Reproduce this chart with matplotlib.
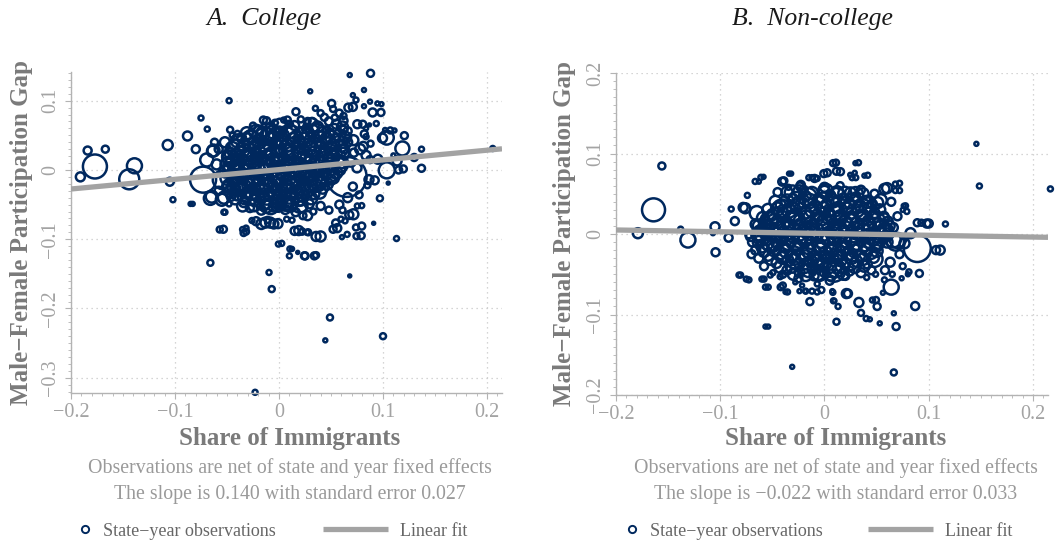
import matplotlib
matplotlib.use("Agg")
import matplotlib.pyplot as plt
import numpy as np
from matplotlib.lines import Line2D
from matplotlib.ticker import MultipleLocator

# ---------------- data: (share of immigrants, participation gap, weight) ----------------
college_core = [
    (-0.020, 0.058, 8), (-0.008, 0.061, 10), (0.004, 0.057, 7), (0.015, 0.064, 9), (0.026, 0.059, 8),
    (0.037, 0.062, 11), (0.046, 0.058, 7), (0.055, 0.066, 9), (0.062, 0.071, 8),
    (-0.036, 0.046, 9), (-0.027, 0.049, 12), (-0.017, 0.052, 10), (-0.006, 0.048, 13), (0.005, 0.051, 9),
    (0.016, 0.047, 12), (0.027, 0.052, 10), (0.038, 0.049, 11), (0.049, 0.053, 9), (0.058, 0.050, 12), (0.066, 0.056, 8),
    (-0.043, 0.037, 10), (-0.034, 0.034, 12), (-0.024, 0.039, 11), (-0.014, 0.036, 13), (-0.003, 0.040, 10),
    (0.008, 0.035, 12), (0.019, 0.041, 11), (0.030, 0.037, 13), (0.041, 0.040, 10), (0.052, 0.036, 12), (0.061, 0.042, 9),
    (-0.047, 0.024, 11), (-0.038, 0.027, 10), (-0.029, 0.022, 13), (-0.019, 0.028, 11), (-0.009, 0.023, 12),
    (0.002, 0.029, 10), (0.012, 0.024, 13), (0.023, 0.030, 11), (0.034, 0.025, 12), (0.045, 0.028, 10),
    (0.055, 0.024, 11), (0.063, 0.031, 9),
    (-0.045, 0.013, 12), (-0.036, 0.017, 10), (-0.026, 0.012, 12), (-0.016, 0.016, 11), (-0.006, 0.011, 13),
    (0.005, 0.017, 10), (0.015, 0.012, 12), (0.026, 0.018, 11), (0.037, 0.013, 12), (0.047, 0.016, 10), (0.057, 0.014, 11),
    (-0.048, 0.004, 10), (-0.039, 0.001, 12), (-0.030, 0.006, 11), (-0.020, 0.002, 13), (-0.010, 0.007, 10),
    (0.000, 0.003, 12), (0.010, 0.006, 11), (0.020, 0.001, 13), (0.031, 0.005, 10), (0.041, 0.002, 12),
    (0.051, 0.006, 11), (0.060, 0.003, 9),
    (-0.046, -0.006, 11), (-0.037, -0.009, 12), (-0.027, -0.004, 10), (-0.017, -0.008, 12), (-0.007, -0.003, 11),
    (0.004, -0.007, 13), (0.014, -0.004, 10), (0.024, -0.009, 12), (0.035, -0.005, 11), (0.045, -0.008, 10), (0.055, -0.004, 12),
    (-0.044, -0.016, 12), (-0.035, -0.013, 10), (-0.025, -0.018, 12), (-0.015, -0.014, 11), (-0.004, -0.019, 13),
    (0.007, -0.015, 10), (0.017, -0.018, 12), (0.028, -0.013, 11), (0.039, -0.017, 12), (0.050, -0.014, 10),
    (-0.042, -0.027, 10), (-0.033, -0.023, 12), (-0.023, -0.028, 11), (-0.012, -0.024, 13), (-0.002, -0.029, 10),
    (0.009, -0.025, 12), (0.020, -0.028, 11), (0.031, -0.023, 12), (0.042, -0.027, 10),
    (-0.040, -0.036, 11), (-0.030, -0.033, 10), (-0.020, -0.038, 12), (-0.010, -0.034, 11), (0.001, -0.037, 12),
    (0.012, -0.033, 10), (0.023, -0.038, 11), (0.034, -0.035, 10),
    (-0.034, -0.047, 9), (-0.024, -0.044, 11), (-0.013, -0.049, 10), (-0.003, -0.045, 12), (0.008, -0.048, 9),
    (0.019, -0.044, 11), (0.029, -0.049, 9),
    (-0.028, -0.055, 8), (-0.017, -0.058, 9), (-0.006, -0.054, 8), (0.006, -0.057, 9), (0.016, -0.061, 8),
]

college_core_2 = [
    (-0.031, 0.053, 12), (-0.022, 0.055, 14), (-0.011, 0.051, 13), (0.000, 0.054, 12), (0.010, 0.056, 14),
    (0.021, 0.053, 12), (0.032, 0.056, 13), (0.043, 0.054, 12), (0.053, 0.057, 13), (0.061, 0.062, 11),
    (-0.040, 0.042, 13), (-0.030, 0.044, 12), (-0.019, 0.041, 14), (-0.008, 0.044, 13), (0.003, 0.041, 12),
    (0.014, 0.043, 14), (0.024, 0.045, 12), (0.035, 0.042, 13), (0.046, 0.045, 12), (0.056, 0.043, 13), (0.064, 0.047, 11),
    (-0.045, 0.031, 13), (-0.035, 0.029, 14), (-0.024, 0.032, 12), (-0.013, 0.030, 13), (-0.002, 0.033, 14),
    (0.008, 0.030, 12), (0.018, 0.034, 13), (0.029, 0.031, 14), (0.040, 0.034, 12), (0.050, 0.031, 13), (0.060, 0.035, 12),
    (-0.049, 0.019, 12), (-0.040, 0.021, 13), (-0.031, 0.018, 14), (-0.021, 0.021, 12), (-0.011, 0.018, 14),
    (-0.001, 0.022, 13), (0.010, 0.019, 12), (0.020, 0.023, 14), (0.031, 0.019, 13), (0.042, 0.022, 12),
    (0.052, 0.019, 13), (0.062, 0.024, 11),
    (-0.050, 0.008, 13), (-0.041, 0.010, 12), (-0.032, 0.008, 14), (-0.023, 0.010, 13), (-0.013, 0.008, 12),
    (-0.002, 0.010, 14), (0.008, 0.008, 13), (0.019, 0.010, 12), (0.029, 0.009, 14), (0.040, 0.011, 13),
    (0.050, 0.009, 12), (0.060, 0.011, 12),
    (-0.051, -0.002, 12), (-0.042, 0.000, 14), (-0.033, -0.002, 13), (-0.024, 0.000, 12), (-0.014, -0.002, 14),
    (-0.004, 0.000, 13), (0.006, -0.001, 12), (0.016, 0.000, 14), (0.026, -0.002, 13), (0.037, 0.000, 12),
    (0.047, -0.002, 13), (0.058, 0.001, 12),
    (-0.050, -0.012, 13), (-0.040, -0.010, 12), (-0.031, -0.012, 14), (-0.021, -0.010, 13), (-0.011, -0.012, 12),
    (-0.001, -0.010, 14), (0.010, -0.012, 13), (0.020, -0.010, 12), (0.031, -0.012, 14), (0.041, -0.010, 13),
    (0.052, -0.011, 12),
    (-0.048, -0.022, 12), (-0.039, -0.020, 14), (-0.029, -0.022, 13), (-0.019, -0.020, 12), (-0.008, -0.022, 14),
    (0.002, -0.020, 13), (0.013, -0.022, 12), (0.024, -0.020, 14), (0.035, -0.022, 13), (0.046, -0.020, 12),
    (-0.046, -0.031, 13), (-0.036, -0.029, 12), (-0.026, -0.032, 14), (-0.016, -0.030, 13), (-0.005, -0.032, 12),
    (0.006, -0.030, 14), (0.017, -0.032, 13), (0.028, -0.030, 12), (0.039, -0.032, 13),
    (-0.042, -0.041, 12), (-0.033, -0.040, 13), (-0.023, -0.042, 12), (-0.012, -0.040, 14), (-0.001, -0.042, 13),
    (0.010, -0.040, 12), (0.021, -0.042, 13), (0.031, -0.041, 12),
    (-0.035, -0.052, 11), (-0.024, -0.051, 12), (-0.012, -0.053, 12), (-0.001, -0.051, 13), (0.011, -0.052, 12),
    (0.022, -0.053, 11),
]

college_core_big = [
    (-0.041, 0.031, 18), (-0.039, 0.001, 20), (-0.041, -0.024, 18), (-0.027, 0.043, 19), (-0.029, 0.016, 21),
    (-0.027, -0.011, 19), (-0.028, -0.037, 18), (-0.014, 0.049, 18), (-0.016, 0.027, 20), (-0.014, 0.004, 22),
    (-0.016, -0.021, 20), (-0.015, -0.046, 17), (-0.001, 0.046, 19), (-0.003, 0.019, 21), (-0.001, -0.007, 20),
    (-0.002, -0.034, 19), (0.012, 0.051, 18), (0.010, 0.031, 21), (0.012, 0.005, 20), (0.011, -0.019, 21),
    (0.010, -0.041, 17), (0.025, 0.048, 20), (0.023, 0.021, 19), (0.025, -0.003, 22), (0.024, -0.029, 18),
    (0.037, 0.053, 18), (0.035, 0.031, 21), (0.037, 0.007, 19), (0.036, -0.017, 20), (0.049, 0.043, 19),
    (0.047, 0.019, 20), (0.049, -0.004, 18), (0.058, 0.031, 17), (0.059, 0.009, 16), (-0.046, 0.016, 17),
    (0.001, 0.063, 15), (0.031, 0.064, 15), (-0.008, -0.053, 15), (0.020, -0.051, 15),
]

college_outer = [
    (-0.191, -0.010, 9), (-0.184, 0.028, 8), (-0.177, 0.005, 24), (-0.167, 0.030, 7), (-0.144, -0.0135, 20),
    (-0.139, 0.006, 15), (-0.107, 0.036, 10), (-0.105, -0.017, 8), (-0.102, -0.043, 5), (-0.088, 0.049, 9),
    (-0.085, -0.049, 4), (-0.075, 0.075, 5), (-0.069, 0.059, 5), (-0.080, 0.030, 8), (-0.064, 0.027, 11),
    (-0.073, -0.014, 26), (-0.066, -0.041, 13), (-0.055, -0.043, 12), (-0.053, -0.061, 5), (-0.066, -0.134, 6),
    (-0.057, -0.086, 6), (-0.048, 0.100, 5), (-0.045, 0.050, 5), (-0.040, 0.052, 6), (-0.035, -0.086, 5),
    (-0.034, -0.091, 6), (-0.026, -0.073, 5), (-0.017, -0.078, 10), (-0.005, -0.078, 9), (-0.011, -0.072, 6),
    (-0.023, -0.321, 5), (-0.0096, -0.148, 5), (-0.007, -0.172, 6), (-0.0006, -0.107, 5), (0.010, -0.124, 5),
    (0.0125, -0.114, 4), (0.018, -0.119, 3), (0.015, -0.088, 8), (0.022, -0.089, 5), (0.025, -0.124, 7),
    (0.027, -0.090, 5), (0.0356, -0.096, 9), (0.0356, -0.123, 6), (0.023, -0.066, 7), (0.0074, -0.071, 5),
    (0.030, 0.1135, 4), (0.0163, 0.084, 7), (0.0045, 0.072, 5), (-0.015, 0.072, 7),
    (0.049, -0.213, 6), (0.0445, -0.246, 4), (0.100, -0.240, 6), (0.068, -0.153, 3), (0.113, -0.099, 5),
    (0.091, -0.077, 3), (0.074, -0.083, 6), (0.0745, -0.0955, 6), (0.0605, -0.097, 4), (0.052, -0.0856, 7),
    (0.0676, -0.065, 8), (0.0753, -0.052, 5), (0.0596, -0.071, 5),
    (0.068, 0.137, 4), (0.088, 0.1395, 7), (0.0817, 0.1154, 4), (0.071, 0.108, 4), (0.074, 0.101, 5),
    (0.0875, 0.0986, 4), (0.0946, 0.096, 4), (0.0985, 0.095, 4), (0.0817, 0.092, 4), (0.0667, 0.090, 8),
    (0.0506, 0.096, 7), (0.090, 0.083, 8), (0.0753, 0.066, 8), (0.087, 0.065, 3), (0.0837, 0.060, 4),
    (0.111, 0.057, 4), (0.102, 0.0577, 4), (0.1205, 0.0495, 7), (0.1036, 0.0467, 14), (0.0995, 0.046, 9),
    (0.1186, 0.031, 14), (0.137, 0.030, 5), (0.130, 0.018, 7), (0.137, 0.0024, 7), (0.115, 0.000, 7),
    (0.1036, -0.0006, 16), (0.1135, 0.013, 9), (0.110, 0.021, 4), (0.095, 0.0155, 9), (0.0837, 0.021, 9),
    (0.078, 0.030, 10), (0.0837, 0.048, 5), (0.097, -0.041, 6), (0.105, -0.019, 3), (0.092, -0.015, 8),
    (0.085, -0.022, 6), (0.2055, 0.031, 5), (0.065, -0.010, 40),
    (-0.012, 0.071, 7), (0.008, 0.072, 7), (0.0275, 0.0707, 6), (0.0436, 0.076, 7), (0.0536, 0.0755, 6),
    (0.071, 0.091, 8), (0.0805, 0.066, 7), (0.098, 0.083, 7), (0.0935, 0.067, 5), (0.107, 0.057, 6),
    (0.0715, 0.043, 10), (0.081, 0.034, 9), (0.0875, 0.015, 7), (0.0865, -0.014, 9), (0.1195, 0.0015, 7),
    (0.0795, -0.0515, 5), (0.0795, -0.081, 7), (0.079, -0.0948, 7), (0.0655, -0.093, 5), (0.056, -0.084, 8),
    (0.0545, -0.0765, 7), (0.0715, -0.064, 10), (0.0635, -0.0735, 5), (0.040, -0.096, 10), (0.0275, -0.066, 9),
    (0.019, -0.0875, 9), (0.0225, -0.089, 6), (0.028, -0.090, 6), (0.0125, -0.0725, 5), (0.0026, -0.106, 5),
    (0.0105, -0.114, 5), (0.0245, -0.124, 7), (0.034, -0.124, 7), (-0.001, -0.0775, 9), (-0.0085, -0.076, 10),
    (-0.013, -0.076, 10), (-0.022, -0.074, 8), (-0.0317, -0.084, 5), (-0.0317, -0.089, 6), (-0.0535, -0.0856, 7),
    (-0.052, -0.061, 5), (-0.083, -0.049, 4), (-0.0647, -0.0385, 12), (-0.053, -0.040, 12), (-0.048, -0.049, 5),
    (-0.055, -0.0144, 18), (-0.0695, 0.0144, 13), (-0.063, 0.028, 12), (0.000, -0.048, 13), (0.006, -0.048, 15),
    (-0.006, 0.055, 13), (-0.012, 0.052, 20), (0.009, -0.044, 20),
    (0.066, 0.040, 9), (0.072, 0.025, 8), (0.069, 0.012, 10), (0.075, 0.003, 9), (0.071, -0.024, 8),
    (0.077, -0.036, 7), (0.066, -0.040, 9), (0.082, 0.052, 7), (0.088, 0.038, 6), (0.062, 0.058, 8),
    (0.058, -0.050, 8), (0.048, -0.058, 7), (0.040, -0.052, 8), (0.033, -0.060, 6), (0.061, -0.058, 6),
    (-0.052, 0.040, 10), (-0.058, 0.030, 8), (-0.050, 0.022, 9), (-0.060, 0.008, 10), (-0.052, -0.002, 12),
    (-0.050, -0.024, 10), (-0.058, -0.030, 8), (-0.046, -0.038, 9), (-0.062, 0.040, 7), (-0.047, 0.058, 6),
    (-0.025, 0.064, 6), (-0.004, 0.068, 6), (0.010, 0.066, 7), (0.021, 0.073, 6), (0.032, 0.070, 7),
    (0.040, 0.082, 6), (0.048, 0.070, 8), (0.058, 0.082, 7), (0.062, 0.078, 6), (0.052, 0.088, 6), (0.035, 0.089, 5),
]

noncollege_core = [
    (-0.030, 0.044, 9), (-0.018, 0.047, 10), (-0.006, 0.043, 11), (0.006, 0.048, 9), (0.018, 0.044, 10),
    (0.030, 0.046, 9), (0.040, 0.042, 8),
    (-0.042, 0.036, 10), (-0.031, 0.033, 11), (-0.020, 0.038, 10), (-0.009, 0.034, 12), (0.002, 0.037, 10),
    (0.013, 0.033, 11), (0.024, 0.038, 10), (0.035, 0.034, 11), (0.046, 0.037, 9),
    (-0.050, 0.024, 11), (-0.040, 0.027, 10), (-0.029, 0.022, 12), (-0.018, 0.026, 11), (-0.007, 0.023, 12),
    (0.004, 0.027, 10), (0.015, 0.022, 12), (0.026, 0.026, 11), (0.037, 0.023, 12), (0.048, 0.026, 10), (0.057, 0.022, 9),
    (-0.056, 0.013, 12), (-0.046, 0.016, 10), (-0.035, 0.012, 12), (-0.024, 0.017, 11), (-0.013, 0.013, 13),
    (-0.002, 0.017, 10), (0.009, 0.012, 12), (0.020, 0.016, 11), (0.031, 0.013, 12), (0.042, 0.017, 10),
    (0.052, 0.013, 11), (0.061, 0.016, 9),
    (-0.060, 0.004, 11), (-0.050, 0.007, 12), (-0.040, 0.003, 10), (-0.029, 0.006, 13), (-0.018, 0.002, 11),
    (-0.007, 0.006, 12), (0.004, 0.003, 10), (0.015, 0.007, 13), (0.026, 0.002, 11), (0.037, 0.006, 12),
    (0.048, 0.003, 10), (0.058, 0.006, 11),
    (-0.062, -0.006, 12), (-0.052, -0.003, 10), (-0.041, -0.007, 12), (-0.030, -0.004, 11), (-0.019, -0.008, 13),
    (-0.008, -0.003, 10), (0.003, -0.007, 12), (0.014, -0.004, 11), (0.025, -0.008, 12), (0.036, -0.004, 10),
    (0.047, -0.007, 11), (0.057, -0.005, 10),
    (-0.060, -0.016, 11), (-0.049, -0.013, 12), (-0.038, -0.017, 10), (-0.027, -0.014, 12), (-0.016, -0.018, 11),
    (-0.005, -0.014, 13), (0.006, -0.017, 10), (0.017, -0.013, 12), (0.028, -0.017, 11), (0.039, -0.014, 12),
    (0.050, -0.016, 10),
    (-0.054, -0.027, 10), (-0.043, -0.024, 12), (-0.032, -0.028, 11), (-0.021, -0.024, 12), (-0.010, -0.027, 10),
    (0.001, -0.023, 12), (0.012, -0.028, 11), (0.023, -0.025, 12), (0.034, -0.027, 10), (0.045, -0.024, 11),
    (-0.046, -0.036, 10), (-0.035, -0.033, 11), (-0.024, -0.037, 10), (-0.013, -0.034, 12), (-0.002, -0.037, 10),
    (0.009, -0.033, 11), (0.020, -0.036, 10), (0.031, -0.034, 11), (0.041, -0.037, 9),
    (-0.036, -0.045, 9), (-0.024, -0.047, 10), (-0.012, -0.044, 9), (0.000, -0.047, 10), (0.012, -0.044, 9),
    (0.024, -0.046, 9),
]

noncollege_core_2 = [
    (-0.036, 0.052, 11), (-0.024, 0.053, 12), (-0.012, 0.051, 12), (0.000, 0.053, 11), (0.012, 0.052, 12),
    (0.025, 0.051, 11), (0.037, 0.050, 11),
    (-0.047, 0.040, 12), (-0.036, 0.041, 13), (-0.025, 0.039, 12), (-0.014, 0.041, 14), (-0.003, 0.040, 12),
    (0.008, 0.041, 13), (0.019, 0.039, 12), (0.030, 0.041, 13), (0.041, 0.040, 12), (0.051, 0.039, 11),
    (-0.054, 0.030, 12), (-0.045, 0.031, 13), (-0.034, 0.029, 14), (-0.023, 0.031, 12), (-0.012, 0.029, 13),
    (-0.001, 0.031, 14), (0.010, 0.029, 12), (0.021, 0.031, 13), (0.032, 0.029, 12), (0.043, 0.031, 13), (0.053, 0.030, 11),
    (-0.059, 0.020, 12), (-0.051, 0.019, 13), (-0.040, 0.021, 12), (-0.029, 0.019, 14), (-0.018, 0.021, 13),
    (-0.007, 0.019, 12), (0.004, 0.021, 14), (0.015, 0.019, 13), (0.026, 0.021, 12), (0.037, 0.019, 14),
    (0.047, 0.021, 12), (0.057, 0.019, 11),
    (-0.063, 0.010, 12), (-0.055, 0.009, 13), (-0.045, 0.011, 14), (-0.034, 0.009, 12), (-0.023, 0.011, 13),
    (-0.012, 0.009, 14), (-0.001, 0.011, 12), (0.010, 0.009, 13), (0.021, 0.011, 14), (0.032, 0.009, 12),
    (0.043, 0.011, 13), (0.053, 0.009, 12), (0.062, 0.010, 11),
    (-0.064, 0.000, 13), (-0.056, 0.001, 12), (-0.046, -0.001, 14), (-0.035, 0.001, 13), (-0.024, -0.001, 12),
    (-0.013, 0.001, 14), (-0.002, -0.001, 13), (0.009, 0.001, 12), (0.020, -0.001, 14), (0.031, 0.001, 13),
    (0.042, -0.001, 12), (0.052, 0.001, 13), (0.061, 0.000, 11),
    (-0.063, -0.010, 12), (-0.055, -0.011, 13), (-0.046, -0.009, 12), (-0.035, -0.011, 14), (-0.024, -0.009, 13),
    (-0.013, -0.011, 12), (-0.002, -0.009, 14), (0.009, -0.011, 13), (0.020, -0.009, 12), (0.031, -0.011, 14),
    (0.042, -0.009, 13), (0.052, -0.011, 12), (0.060, -0.010, 11),
    (-0.058, -0.021, 12), (-0.048, -0.019, 14), (-0.037, -0.021, 13), (-0.026, -0.019, 12), (-0.015, -0.021, 14),
    (-0.004, -0.019, 13), (0.007, -0.021, 12), (0.018, -0.019, 14), (0.029, -0.021, 13), (0.040, -0.019, 12),
    (0.050, -0.021, 12),
    (-0.051, -0.031, 12), (-0.040, -0.029, 13), (-0.029, -0.031, 12), (-0.018, -0.029, 14), (-0.007, -0.031, 13),
    (0.004, -0.029, 12), (0.015, -0.031, 14), (0.026, -0.029, 13), (0.037, -0.031, 12), (0.047, -0.029, 11),
    (-0.042, -0.041, 12), (-0.031, -0.040, 13), (-0.019, -0.041, 12), (-0.007, -0.040, 13), (0.005, -0.041, 12),
    (0.017, -0.040, 13), (0.029, -0.041, 12), (0.038, -0.040, 11),
    (-0.030, -0.050, 11), (-0.018, -0.051, 12), (-0.006, -0.050, 12), (0.006, -0.051, 11), (0.018, -0.050, 11),
]

noncollege_core_big = [
    (-0.053, 0.016, 18), (-0.051, -0.011, 19), (-0.041, 0.031, 19), (-0.039, 0.004, 21), (-0.040, -0.023, 19),
    (-0.027, 0.041, 18), (-0.029, 0.017, 21), (-0.027, -0.007, 22), (-0.028, -0.031, 19), (-0.016, 0.046, 18),
    (-0.014, 0.024, 20), (-0.016, 0.001, 22), (-0.014, -0.025, 21), (-0.015, -0.043, 17), (-0.001, 0.039, 20),
    (-0.003, 0.013, 22), (-0.001, -0.013, 21), (-0.002, -0.034, 19), (0.012, 0.046, 18), (0.010, 0.024, 21),
    (0.012, 0.001, 22), (0.010, -0.023, 20), (0.011, -0.043, 17), (0.025, 0.037, 20), (0.023, 0.013, 21),
    (0.025, -0.011, 22), (0.024, -0.034, 18), (0.036, 0.031, 20), (0.038, 0.005, 21), (0.036, -0.021, 20),
    (0.049, 0.017, 18), (0.047, -0.009, 19), (0.048, -0.031, 16), (0.058, 0.004, 16), (-0.061, 0.001, 16),
    (0.001, 0.053, 15), (0.030, 0.049, 15), (-0.031, 0.051, 15), (-0.005, -0.049, 15),
]

noncollege_outer = [
    (-0.179, 0.001, 10), (-0.164, 0.030, 23), (-0.156, 0.0845, 7), (-0.138, 0.006, 5), (-0.131, -0.0075, 15),
    (-0.105, 0.009, 9), (-0.107, 0.001, 4), (-0.1045, -0.0227, 8), (-0.092, -0.0046, 8), (-0.0895, 0.031, 5),
    (-0.086, 0.016, 8), (-0.078, 0.033, 9), (-0.074, 0.048, 5), (-0.0725, -0.001, 7), (-0.065, 0.026, 14),
    (-0.082, -0.051, 5), (-0.075, -0.056, 5), (-0.060, -0.056, 5), (-0.0566, -0.066, 5), (-0.0566, -0.115, 4),
    (-0.031, -0.165, 4), (0.0665, -0.172, 6), (0.0687, -0.115, 7), (0.0665, -0.0985, 4), (0.053, -0.111, 4),
    (0.040, -0.105, 5), (0.035, -0.098, 6), (0.0115, -0.109, 6), (0.033, -0.085, 9), (0.0505, -0.090, 7),
    (0.046, -0.082, 5), (0.064, -0.066, 15), (0.087, -0.0895, 8), (0.091, -0.049, 7), (0.089, -0.018, 27),
    (0.066, -0.0075, 15), (0.070, -0.008, 15), (0.0825, 0.001, 10), (0.107, -0.020, 8), (0.098, 0.013, 8),
    (0.100, 0.013, 8), (0.116, 0.0124, 5), (0.093, 0.014, 6), (0.1457, 0.112, 4), (0.1486, 0.0596, 5),
    (0.2167, 0.056, 5), (0.0575, 0.056, 10), (0.068, 0.062, 5), (0.068, 0.054, 5), (0.0297, 0.088, 4),
    (0.0083, 0.088, 6), (-0.0006, 0.075, 7), (0.0115, 0.078, 7), (0.0383, 0.0725, 4), (0.0247, 0.0735, 4),
    (-0.015, 0.070, 5), (-0.0095, 0.069, 7), (-0.034, 0.075, 4), (-0.0405, 0.065, 8), (-0.061, 0.0704, 5),
    (-0.0665, 0.0653, 5), (-0.0227, 0.061, 8), (0.076, 0.035, 4), (0.075, 0.030, 4), (0.080, -0.050, 4),
    (0.074, -0.055, 4), (-0.007, -0.072, 5), (-0.007, -0.062, 5), (-0.014, -0.084, 7), (0.0075, -0.071, 4),
    (0.021, -0.074, 9), (0.0095, -0.083, 4), (-0.042, -0.066, 6), (-0.0374, -0.072, 4), (-0.024, -0.071, 4),
    (-0.0185, -0.071, 4), (-0.028, -0.060, 4), (-0.0215, -0.064, 4), (-0.052, -0.051, 5), (-0.0495, -0.048, 5),
    (-0.0425, -0.053, 5), (0.0575, -0.057, 5), (0.0405, -0.054, 5), (0.049, -0.050, 5),
    (-0.076, 0.032, 10), (-0.071, -0.003, 9), (-0.066, -0.020, 9), (-0.0585, 0.071, 4), (-0.063, 0.065, 4),
    (-0.039, 0.066, 7), (-0.032, 0.075, 4), (-0.0345, 0.058, 5), (-0.0235, 0.059, 8), (-0.012, 0.070, 5),
    (-0.007, 0.069, 5), (0.0026, 0.076, 7), (0.011, 0.0886, 6), (0.0153, 0.0774, 7), (0.029, 0.076, 4),
    (0.0326, 0.0886, 5), (0.0265, 0.070, 5), (0.030, 0.070, 5), (0.0415, 0.073, 5), (0.060, 0.057, 10),
    (0.072, 0.063, 5), (0.072, 0.054, 5), (0.0777, 0.035, 5), (0.079, 0.028, 5), (0.089, 0.014, 7),
    (0.111, -0.020, 9), (0.0767, -0.0116, 10), (0.065, -0.050, 5), (0.081, -0.047, 5), (0.056, -0.073, 4),
    (0.0494, -0.082, 6), (0.0435, -0.106, 4), (0.013, -0.090, 5), (0.0086, -0.083, 5), (0.008, -0.0725, 5),
    (0.0225, -0.074, 8), (-0.003, -0.0696, 6), (-0.012, -0.071, 5), (-0.018, -0.071, 5), (-0.0355, -0.072, 5),
    (-0.040, -0.064, 6), (-0.054, -0.066, 5), (-0.058, -0.056, 5), (-0.0725, -0.057, 5), (-0.0805, -0.051, 5),
    (-0.054, -0.115, 4),
    (0.0195, 0.0506, 13), (0.009, -0.045, 23), (0.068, -0.010, 17), (0.054, 0.042, 12), (-0.058, 0.005, 13),
    (-0.057, 0.010, 13),
    (0.064, 0.040, 8), (0.070, 0.022, 8), (0.066, 0.008, 9), (0.072, -0.025, 8), (0.063, -0.035, 9),
    (0.075, -0.040, 6), (0.058, -0.045, 8), (-0.066, 0.012, 10), (-0.069, -0.010, 9), (-0.063, -0.030, 9),
    (-0.070, -0.025, 8), (-0.058, -0.040, 8), (-0.045, 0.052, 8), (-0.020, 0.055, 8), (0.000, 0.058, 9),
    (0.015, 0.060, 7), (0.035, 0.055, 8), (0.048, 0.050, 8), (-0.040, -0.050, 7), (-0.025, -0.055, 8),
    (-0.010, -0.052, 9), (0.005, -0.058, 8), (0.020, -0.052, 8), (0.035, -0.048, 9), (0.045, -0.045, 8),
]

# linear fits (slope, intercept)
college_fit = (0.140, 0.0005)
noncollege_fit = (-0.022, 0.0006)

x_ticks = [-0.2, -0.1, 0.0, 0.1, 0.2]
x_tick_labels = ["\u22120.2", "\u22120.1", "0", "0.1", "0.2"]
college_y_ticks = [-0.3, -0.2, -0.1, 0.0, 0.1]
college_y_tick_labels = ["\u22120.3", "\u22120.2", "\u22120.1", "0", "0.1"]
noncollege_y_ticks = [-0.2, -0.1, 0.0, 0.1, 0.2]
noncollege_y_tick_labels = ["\u22120.2", "\u22120.1", "0", "0.1", "0.2"]

titles = ["A.  College", "B.  Non-college"]
notes_1 = "Observations are net of state and year fixed effects"
notes_2 = ["The slope is 0.140 with standard error 0.027",
           "The slope is \u22120.022 with standard error 0.033"]

# ---------------- styling ----------------
plt.rcParams["font.family"] = ["Liberation Serif", "DejaVu Serif"]
NAVY = "#00285e"
FITC = "#a3a3a3"
AXC = "#b3b3b3"
TICKC = "#a3a3a3"
LABC = "#7a7a7a"
NOTEC = "#9a9a9a"
LEGC = "#666666"

W, H = 1058, 548
fig = plt.figure(figsize=(W / 100, H / 100), dpi=100)


def fx(px):
    return px / W


def fy(py):
    return 1 - py / H


def panel(rect, pts_all, fit, xlim, ylim, yticks, yticklabels):
    ax = fig.add_axes(rect)
    pts = sorted(pts_all, key=lambda p: -p[2])
    xs = np.array([p[0] for p in pts])
    ys = np.array([p[1] for p in pts])
    ws = np.array([p[2] for p in pts])
    ax.scatter(xs, ys, s=(ws * 0.72) ** 2, facecolors="none", edgecolors=NAVY,
               linewidths=1.8, zorder=2, clip_on=False)
    xl = np.array(xlim)
    ax.plot(xl, fit[1] + fit[0] * xl, color=FITC, lw=3.8, solid_capstyle="butt", zorder=3)
    ax.set_xlim(*xlim)
    ax.set_ylim(*ylim)
    ax.set_xticks(x_ticks)
    ax.set_xticklabels(x_tick_labels)
    ax.set_yticks(yticks)
    ax.set_yticklabels(yticklabels, rotation=90, va="center")
    ax.xaxis.set_minor_locator(MultipleLocator(0.01))
    ax.yaxis.set_minor_locator(MultipleLocator(0.01))
    ax.tick_params(which="major", length=4, width=0.8, color=AXC, labelcolor=TICKC,
                   labelsize=14.5, direction="out")
    ax.tick_params(axis="x", which="major", pad=3)
    ax.tick_params(axis="y", which="major", pad=4)
    ax.tick_params(which="minor", length=2.5, width=0.6, color=AXC, direction="out")
    for s in ["top", "right"]:
        ax.spines[s].set_visible(False)
    for s in ["left", "bottom"]:
        ax.spines[s].set_color(AXC)
        ax.spines[s].set_linewidth(1.0)
    ax.grid(True, which="major", ls=(0, (1, 3)), color="#c8c8c8", lw=0.9, zorder=0)
    ax.set_axisbelow(True)
    ax.set_xlabel("Share of Immigrants", fontsize=18, fontweight="bold", color=LABC)
    ax.set_ylabel("Male\u2212Female Participation Gap", fontsize=18, fontweight="bold", color=LABC)
    ax.xaxis.label.set_va("center")
    ax.yaxis.label.set_va("center")
    return ax


axA = panel([fx(71), fy(393), fx(502) - fx(71), fy(72) - fy(393)],
            college_core + college_core_2 + college_core_big + college_outer, college_fit,
            (-0.2, 0.2144), (-0.322, 0.1414), college_y_ticks, college_y_tick_labels)
axA.xaxis.set_label_coords((290 - 71) / 431, -(438 - 393) / 321)
axA.yaxis.set_label_coords(-(71 - 22) / 431, 0.5)

axB = panel([fx(616), fy(395), fx(1048) - fx(616), fy(73) - fy(395)],
            noncollege_core + noncollege_core_2 + noncollege_core_big + noncollege_outer, noncollege_fit,
            (-0.2, 0.2144), (-0.2, 0.2), noncollege_y_ticks, noncollege_y_tick_labels)
axB.xaxis.set_label_coords((836 - 616) / 432, -(438 - 395) / 322)
axB.yaxis.set_label_coords(-(616 - 564) / 432, 0.5)

# titles
fig.text(fx(264), fy(19), titles[0], style="italic", fontsize=18.5, ha="center", va="center", color="#1a1a1a")
fig.text(fx(812), fy(19), titles[1], style="italic", fontsize=18.5, ha="center", va="center", color="#1a1a1a")

# notes
for cx, s2 in [(290, notes_2[0]), (836, notes_2[1])]:
    fig.text(fx(cx), fy(468), notes_1, fontsize=14.3, ha="center", va="center", color=NOTEC)
    fig.text(fx(cx), fy(494), s2, fontsize=14.3, ha="center", va="center", color=NOTEC)

# legends
for mx, lx in [(76, 323), (623, 868)]:
    h1 = Line2D([], [], ls="none", marker="o", ms=5.2, mfc="none", mec=NAVY, mew=1.4)
    fig.legend([h1], ["State\u2212year observations"], loc="center left",
               bbox_to_anchor=(fx(mx), fy(531)), frameon=False, handlelength=1.0,
               handletextpad=0.5, borderpad=0, borderaxespad=0, fontsize=13, labelcolor=LEGC)
    h2 = Line2D([], [], color=FITC, lw=3.8, solid_capstyle="butt")
    fig.legend([h2], ["Linear fit"], loc="center left",
               bbox_to_anchor=(fx(lx), fy(531)), frameon=False, handlelength=3.6,
               handletextpad=0.65, borderpad=0, borderaxespad=0, fontsize=13, labelcolor=LEGC)

fig.savefig("out.png", dpi=100)
